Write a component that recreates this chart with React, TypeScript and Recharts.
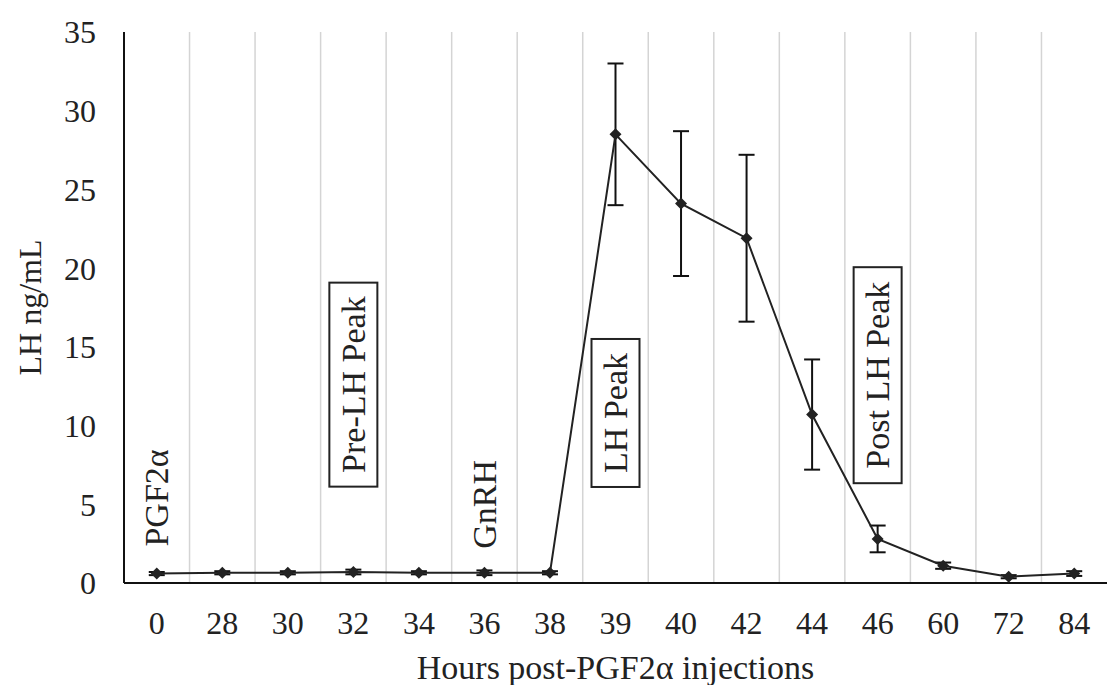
import React from "react";
import { ComposedChart, Line, XAxis, YAxis, CartesianGrid, ErrorBar, ReferenceDot, Label } from "recharts";

const hours = ["0", "28", "30", "32", "34", "36", "38", "39", "40", "42", "44", "46", "60", "72", "84"];
const lhMean = [0.6, 0.65, 0.65, 0.7, 0.65, 0.65, 0.65, 28.5, 24.1, 21.9, 10.7, 2.8, 1.1, 0.4, 0.6];
const lhErr = [0.1, 0.1, 0.1, 0.15, 0.1, 0.15, 0.1, 4.5, 4.6, 5.3, 3.5, 0.85, 0.2, 0.1, 0.15];
const yTicks = [0, 5, 10, 15, 20, 25, 30, 35];

const notes = [
  { x: "0", y: 5.4, text: "PGF2α", boxed: false, boxH: 0 },
  { x: "32", y: 12.6, text: "Pre-LH Peak", boxed: true, boxH: 204 },
  { x: "36", y: 5.0, text: "GnRH", boxed: false, boxH: 0 },
  { x: "39", y: 10.8, text: "LH Peak", boxed: true, boxH: 148 },
  { x: "46", y: 13.2, text: "Post LH Peak", boxed: true, boxH: 216 },
];

const data = hours.map((h, i) => ({ h, lh: lhMean[i], err: lhErr[i] }));

const FONT = "'Liberation Serif', 'Times New Roman', serif";
const INK = "#222";

const Diamond = (props: any) => {
  const { cx, cy, index } = props;
  if (cx == null || cy == null) return null;
  return <path key={`dm-${index}`} d={`M${cx},${cy - 6} L${cx + 6},${cy} L${cx},${cy + 6} L${cx - 6},${cy} Z`} fill={INK} />;
};

const noteShape = (n: typeof notes[number]) => (props: any) => {
  const { cx, cy } = props;
  return (
    <g>
      {n.boxed && (
        <rect x={cx - 24} y={cy - n.boxH / 2} width={48} height={n.boxH} fill="#fff" stroke={INK} strokeWidth={2} />
      )}
      <text
        x={cx}
        y={cy}
        transform={`rotate(-90 ${cx} ${cy})`}
        textAnchor="middle"
        dominantBaseline="central"
        fontFamily={FONT}
        fontSize={34}
        fill={INK}
      >
        {n.text}
      </text>
    </g>
  );
};

export default function App() {
  return (
    <div style={{ position: "absolute", left: 0, top: 0, width: 1107, height: 685, background: "#fff" }}>
      <ComposedChart width={1107} height={685} data={data} margin={{ top: 32, right: 0, left: 0, bottom: 0 }}>
        <CartesianGrid
          horizontal={false}
          stroke="#d4d4d4"
          strokeWidth={1.5}
          verticalCoordinatesGenerator={({ offset }: any) =>
            hours.slice(1).map((_, i) => offset.left + ((i + 1) * offset.width) / hours.length)
          }
        />
        <XAxis
          dataKey="h"
          scale="band"
          height={102}
          tickLine={false}
          tickSize={0}
          tickMargin={28}
          axisLine={{ stroke: "#111", strokeWidth: 2 }}
          tick={{ fontFamily: FONT, fontSize: 32, fill: INK }}
          interval={0}
        >
          <Label value="Hours post-PGF2α injections" position="insideBottom" offset={6} style={{ fontFamily: FONT, fontSize: 34, fill: INK }} />
        </XAxis>
        <YAxis
          width={124}
          domain={[0, 35]}
          ticks={yTicks}
          tickLine={false}
          tickSize={0}
          tickMargin={28}
          axisLine={{ stroke: "#111", strokeWidth: 2 }}
          tick={{ fontFamily: FONT, fontSize: 32, fill: INK }}
        >
          <Label value="LH ng/mL" angle={-90} position="insideLeft" offset={30} style={{ fontFamily: FONT, fontSize: 32, fill: INK, textAnchor: "middle" }} />
        </YAxis>
        {notes.map((n) => (
          <ReferenceDot key={n.text} x={n.x} y={n.y} r={0} shape={noteShape(n)} ifOverflow="visible" />
        ))}
        <Line dataKey="lh" stroke={INK} strokeWidth={2} dot={Diamond} activeDot={false} isAnimationActive={false}>
          <ErrorBar dataKey="err" direction="y" width={8} stroke="#111" strokeWidth={2} isAnimationActive={false} />
        </Line>
      </ComposedChart>
    </div>
  );
}
